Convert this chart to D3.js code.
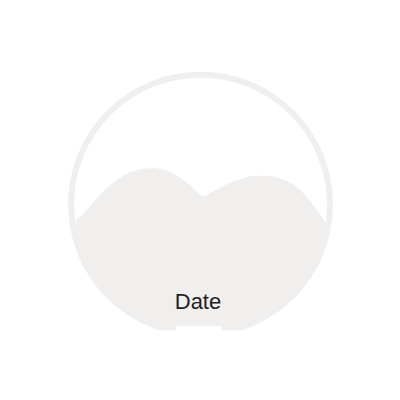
<!DOCTYPE html>
<html>
<head>
<meta charset="utf-8">
<script src="https://cdn.jsdelivr.net/npm/d3@7"></script>
<style>
  html, body { margin: 0; padding: 0; background: #fff; }
  svg { display: block; }
</style>
</head>
<body>
<div id="chart"></div>
<script>
// ---- data ----
const dates = [
  "2020-01","2020-02","2020-03","2020-04","2020-05","2020-06","2020-07",
  "2020-08","2020-09","2020-10","2020-11","2020-12","2021-01","2021-02",
  "2021-03","2021-04","2021-05","2021-06","2021-07","2021-08","2021-09"
];
const values = [
  42.3, 47.0, 52.5, 56.8, 60.0, 61.7, 62.2,
  61.5, 59.1, 55.6, 51.5, 53.9, 56.4, 58.2,
  59.2, 59.3, 58.5, 56.3, 52.3, 46.0, 39.2
];
const xLabel = "Date";

// ---- drawing ----
const W = 400, H = 400;
const fill = "#f0efed";
const cx = 200.5, cy = 204.2, R = 132.5, ringW = 6;

const parse = d3.timeParse("%Y-%m");
const data = dates.map((d, i) => ({ date: parse(d), value: values[i] }));

const x = d3.scaleTime()
  .domain(d3.extent(data, d => d.date))
  .range([76, 330]);
const y = d3.scaleLinear()
  .domain([0, 100])
  .range([330, 70]);

const svg = d3.select("#chart").append("svg")
  .attr("width", W).attr("height", H);

const defs = svg.append("defs");
defs.append("clipPath").attr("id", "disk")
  .append("circle").attr("cx", cx).attr("cy", cy).attr("r", R);
defs.append("clipPath").attr("id", "base")
  .append("rect").attr("x", 0).attr("y", 0).attr("width", W).attr("height", y(0));

const g = svg.append("g").attr("clip-path", "url(#base)");

// ring
g.append("circle")
  .attr("cx", cx).attr("cy", cy).attr("r", R - ringW / 2)
  .attr("fill", "none")
  .attr("stroke", fill)
  .attr("stroke-width", ringW);

// area
const area = d3.area()
  .x(d => x(d.date))
  .y0(y(0))
  .y1(d => y(d.value))
  .curve(d3.curveMonotoneX);

g.append("g").attr("clip-path", "url(#disk)")
  .append("path")
  .datum(data)
  .attr("d", area)
  .attr("fill", fill);

// bottom notch
svg.append("rect")
  .attr("x", 176).attr("y", 326)
  .attr("width", 45).attr("height", 10)
  .attr("fill", "#fff");

// axis label
svg.append("text")
  .attr("x", 198).attr("y", 309)
  .attr("text-anchor", "middle")
  .attr("font-family", "'Liberation Sans', Arial, sans-serif")
  .attr("font-size", 22)
  .attr("fill", "#222")
  .text(xLabel);
</script>
</body>
</html>
